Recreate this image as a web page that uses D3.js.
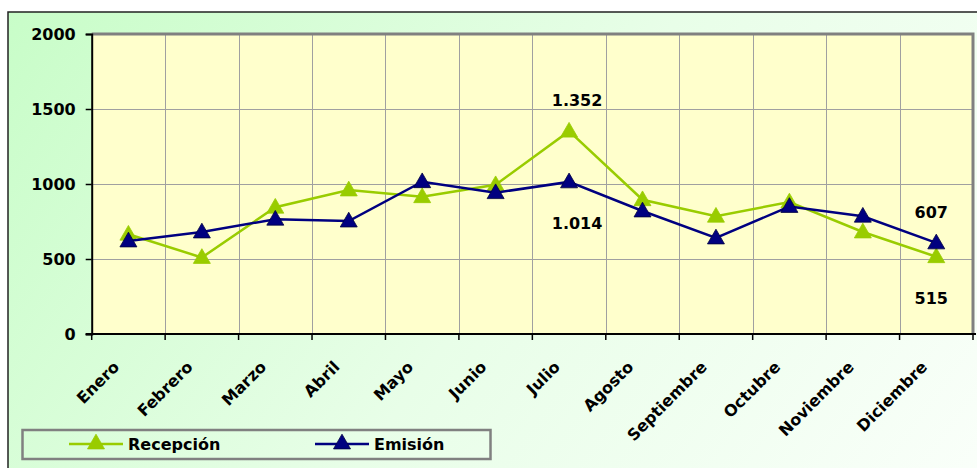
<!DOCTYPE html>
<html lang="es">
<head>
<meta charset="utf-8">
<title>Recepción y Emisión</title>
<script src="https://cdn.jsdelivr.net/npm/d3@7"></script>
<style>
  html, body { margin: 0; padding: 0; background: #fff; }
  svg { display: block; }
  text { font-family: "DejaVu Sans", Verdana, sans-serif; font-weight: bold; font-size: 16px; fill: #000; }
</style>
</head>
<body>
<div id="chart"></div>
<script>
// datos
var meses = ["Enero", "Febrero", "Marzo", "Abril", "Mayo", "Junio", "Julio",
             "Agosto", "Septiembre", "Octubre", "Noviembre", "Diciembre"];
var recepcion = [665, 510, 845, 960, 915, 995, 1352, 895, 785, 880, 680, 515];
var emision   = [620, 680, 765, 753, 1015, 942, 1014, 820, 640, 850, 785, 607];
var yTicks = [0, 500, 1000, 1500, 2000];
var etiquetados = ["Julio", "Diciembre"];   // meses con valor rotulado

var width = 977, height = 468;
var plot = { left: 91.7, right: 973, top: 34, bottom: 334 };

var svg = d3.select("#chart").append("svg")
    .attr("width", width)
    .attr("height", height);

// fondo del grafico (degradado verde)
var defs = svg.append("defs");
var grad = defs.append("linearGradient")
    .attr("id", "fondo")
    .attr("gradientUnits", "userSpaceOnUse")
    .attr("x1", 8).attr("y1", 12).attr("x2", 1000).attr("y2", 720);
grad.append("stop").attr("offset", "0%").attr("stop-color", "#c8fdc8");
grad.append("stop").attr("offset", "45%").attr("stop-color", "#e8fee8");
grad.append("stop").attr("offset", "100%").attr("stop-color", "#ffffff");

svg.append("rect")
    .attr("x", 8).attr("y", 12)
    .attr("width", width + 10).attr("height", height + 10)
    .attr("fill", "url(#fondo)")
    .attr("stroke", "#222")
    .attr("stroke-width", 1.5);

var x = d3.scaleBand().domain(meses).range([plot.left, plot.right]);
var y = d3.scaleLinear().domain([0, 2000]).range([plot.bottom, plot.top]);
var cx = function(m) { return x(m) + x.bandwidth() / 2; };

// area de trazado
svg.append("rect")
    .attr("x", plot.left).attr("y", plot.top)
    .attr("width", plot.right - plot.left).attr("height", plot.bottom - plot.top)
    .attr("fill", "#ffffcc");

// rejilla
var grid = svg.append("g").attr("stroke", "#a0a0a0").attr("stroke-width", 1);
grid.selectAll("line.h")
    .data(yTicks.slice(1, -1))
    .enter().append("line")
    .attr("class", "h")
    .attr("x1", plot.left).attr("x2", plot.right)
    .attr("y1", function(d) { return Math.round(y(d)) + 0.5; })
    .attr("y2", function(d) { return Math.round(y(d)) + 0.5; });
grid.selectAll("line.v")
    .data(meses.slice(1))
    .enter().append("line")
    .attr("class", "v")
    .attr("y1", plot.top).attr("y2", plot.bottom)
    .attr("x1", function(d) { return Math.round(x(d)) + 0.5; })
    .attr("x2", function(d) { return Math.round(x(d)) + 0.5; });

// borde gris arriba y derecha
svg.append("path")
    .attr("d", "M" + plot.left + "," + plot.top + "H" + plot.right + "V" + plot.bottom)
    .attr("fill", "none")
    .attr("stroke", "#808080")
    .attr("stroke-width", 3);

// eje Y
var yAxis = svg.append("g")
    .attr("transform", "translate(" + plot.left + ",0)")
    .call(d3.axisLeft(y).tickValues(yTicks).tickSize(6).tickPadding(10).tickFormat(d3.format("d")));
yAxis.select(".domain").attr("stroke", "#000").attr("stroke-width", 2);
yAxis.selectAll(".tick line").attr("stroke", "#000").attr("stroke-width", 1.5);
yAxis.selectAll("text").attr("dy", "0.36em");

// eje X
var xAxis = svg.append("g")
    .attr("transform", "translate(0," + plot.bottom + ")");
xAxis.append("line")
    .attr("x1", plot.left - 6).attr("x2", plot.right + 3)
    .attr("stroke", "#000").attr("stroke-width", 2);
xAxis.selectAll("line.tk")
    .data(meses.concat(["fin"]))
    .enter().append("line")
    .attr("class", "tk")
    .attr("x1", function(d, i) { return plot.left + i * x.bandwidth(); })
    .attr("x2", function(d, i) { return plot.left + i * x.bandwidth(); })
    .attr("y1", 0).attr("y2", 6)
    .attr("stroke", "#000").attr("stroke-width", 1.5);
xAxis.selectAll("text")
    .data(meses)
    .enter().append("text")
    .attr("text-anchor", "end")
    .attr("transform", function(d) {
        return "translate(" + (cx(d) - 12) + ",30) rotate(-45)";
    })
    .attr("dy", "0.35em")
    .text(function(d) { return d; });

// series
var series = [
    { nombre: "Recepción", valores: recepcion, color: "#99cc00", borde: "#99cc00" },
    { nombre: "Emisión", valores: emision, color: "#000080", borde: "#000040" }
];

var linea = d3.line()
    .x(function(d, i) { return cx(meses[i]); })
    .y(function(d) { return y(d); });

var tri = d3.symbol().type(d3.symbolTriangle).size(125);

series.forEach(function(s) {
    var g = svg.append("g");
    g.append("path")
        .datum(s.valores)
        .attr("d", linea)
        .attr("fill", "none")
        .attr("stroke", s.color)
        .attr("stroke-width", 2.5);
    g.selectAll("path.m")
        .data(s.valores)
        .enter().append("path")
        .attr("class", "m")
        .attr("d", tri)
        .attr("transform", function(d, i) { return "translate(" + cx(meses[i]) + "," + (y(d) + 1) + ")"; })
        .attr("fill", s.color)
        .attr("stroke", s.borde)
        .attr("stroke-width", 0.8);
});

// rotulos de valores
var fmt = function(v) { return d3.format(",")(v).replace(/,/g, "."); };
var rot = svg.append("g").attr("text-anchor", "middle");
etiquetados.forEach(function(m) {
    var i = meses.indexOf(m);
    var dx = m === "Julio" ? 8 : -5;
    series.forEach(function(s, k) {
        var otro = series[1 - k].valores[i];
        var v = s.valores[i];
        var arriba = v > otro;
        rot.append("text")
            .attr("x", cx(m) + dx)
            .attr("y", y(v) + (arriba ? -25 : 47))
            .text(fmt(v));
    });
});

// leyenda
var ley = svg.append("g");
ley.append("rect")
    .attr("x", 22.5).attr("y", 430)
    .attr("width", 468).attr("height", 29)
    .attr("fill", "none")
    .attr("stroke", "#808080")
    .attr("stroke-width", 2.5);
var posLey = [69, 315];
series.forEach(function(s, k) {
    var x0 = posLey[k];
    ley.append("line")
        .attr("x1", x0).attr("x2", x0 + 54)
        .attr("y1", 444).attr("y2", 444)
        .attr("stroke", s.color).attr("stroke-width", 2.5);
    ley.append("path")
        .attr("d", tri)
        .attr("transform", "translate(" + (x0 + 27) + ",444)")
        .attr("fill", s.color)
        .attr("stroke", s.borde)
        .attr("stroke-width", 0.8);
    ley.append("text")
        .attr("x", x0 + 59)
        .attr("y", 450)
        .text(s.nombre);
});
</script>
</body>
</html>
